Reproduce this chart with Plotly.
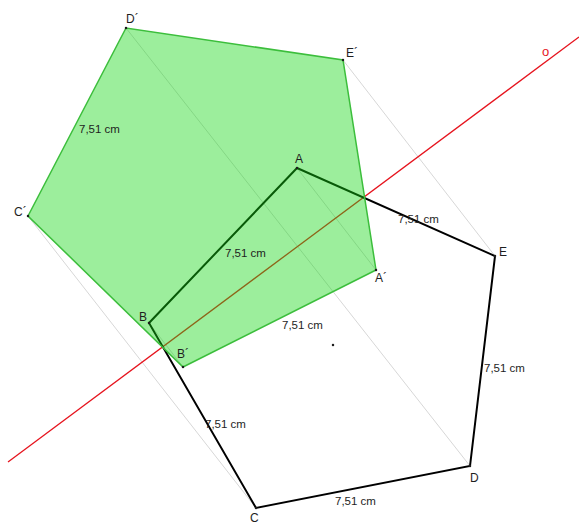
import plotly.graph_objects as go

# Original pentagon ABCDE (pixel-like coordinates, y down)
orig_names = ["A", "B", "C", "D", "E"]
orig_x = [297, 149, 256, 470, 495]
orig_y = [168, 323, 508, 466, 256]

# Reflected pentagon A'B'C'D'E'
refl_names = ["A´", "B´", "C´", "D´", "E´"]
refl_x = [376, 183, 28, 126, 343]
refl_y = [270, 367, 216, 28, 60]

# Axis of reflection "o"
axis_x = [8, 579]
axis_y = [462, 37]
axis_name = "o"

# Side length labels
side_label = "7,51 cm"
side_lbl_x = [77, 223, 280, 396, 482, 203, 333]
side_lbl_y = [129, 253, 325, 219, 368, 424, 501]

# vertex label positions
orig_lbl_x = [293, 137, 248, 468, 497]
orig_lbl_y = [159, 317, 518, 478, 252]
refl_lbl_x = [373, 175, 12, 124, 344]
refl_lbl_y = [278, 354, 212, 19, 53]

# Center dot
dot_x = [333]
dot_y = [345]

fig = go.Figure()

# gray connector lines (corresponding points)
for i in range(5):
    fig.add_trace(go.Scatter(x=[orig_x[i], refl_x[i]], y=[orig_y[i], refl_y[i]],
                             mode="lines", line=dict(color="rgb(215,215,215)", width=1),
                             hoverinfo="skip", showlegend=False))

# axis line
fig.add_trace(go.Scatter(x=axis_x, y=axis_y, mode="lines",
                         line=dict(color="rgb(230,20,30)", width=1.3),
                         hoverinfo="skip", showlegend=False))

# original pentagon
fig.add_trace(go.Scatter(x=orig_x + [orig_x[0]], y=orig_y + [orig_y[0]], mode="lines",
                         line=dict(color="black", width=2), hoverinfo="skip", showlegend=False))

# reflected pentagon (semi-transparent fill on top)
fig.add_trace(go.Scatter(x=refl_x + [refl_x[0]], y=refl_y + [refl_y[0]], mode="lines",
                         fill="toself", fillcolor="rgba(20,215,20,0.42)",
                         line=dict(color="rgb(60,190,60)", width=1.5),
                         hoverinfo="skip", showlegend=False))

# vertex dots
fig.add_trace(go.Scatter(x=orig_x + refl_x + dot_x, y=orig_y + refl_y + dot_y, mode="markers",
                         marker=dict(color="rgb(30,30,30)", size=2.5),
                         hoverinfo="skip", showlegend=False))

font = dict(family="Liberation Sans, Arial, sans-serif", size=12, color="rgb(30,30,30)")
font_s = dict(family="Liberation Sans, Arial, sans-serif", size=11.5, color="rgb(30,30,30)")
for n, x, y in zip(orig_names + refl_names, orig_lbl_x + refl_lbl_x, orig_lbl_y + refl_lbl_y):
    fig.add_annotation(x=x, y=y, text=n, showarrow=False, xanchor="left", yanchor="middle", font=font)
for x, y in zip(side_lbl_x, side_lbl_y):
    fig.add_annotation(x=x, y=y, text=side_label, showarrow=False, xanchor="left", yanchor="middle", font=font_s)
fig.add_annotation(x=545, y=51, text=axis_name, showarrow=False, xanchor="center", yanchor="middle",
                   font=dict(family="Liberation Sans, Arial, sans-serif", size=13, color="rgb(230,20,30)"))

fig.update_layout(width=579, height=524, margin=dict(l=0, r=0, t=0, b=0),
                  paper_bgcolor="white", plot_bgcolor="white",
                  xaxis=dict(range=[0, 579], visible=False, fixedrange=True),
                  yaxis=dict(range=[524, 0], visible=False, fixedrange=True))
fig.write_html("out.html", config={"displayModeBar": False},
               post_script="document.body.style.margin='0';document.body.style.overflow='hidden';")
